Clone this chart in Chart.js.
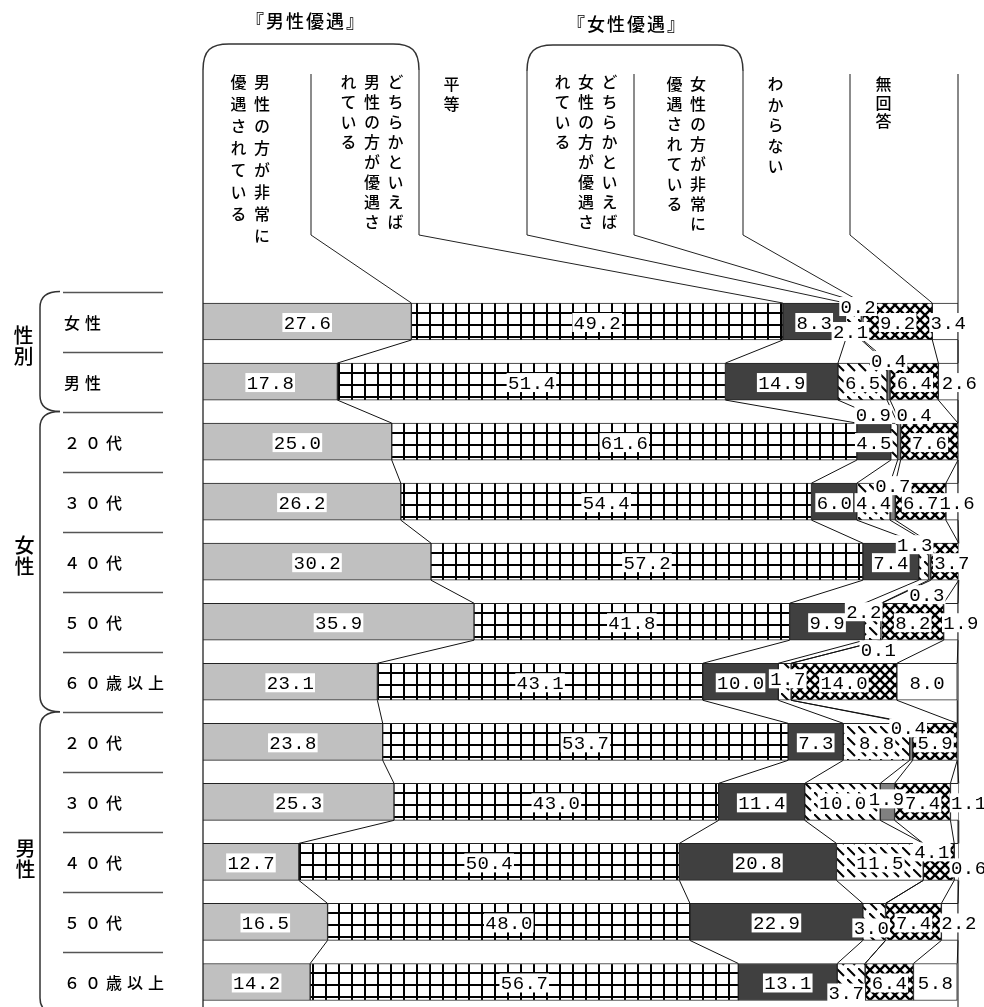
<!DOCTYPE html>
<html>
<head>
<meta charset="utf-8">
<script src="https://cdn.jsdelivr.net/npm/chart.js@4/dist/chart.umd.min.js"></script>
<style>
  html, body { margin: 0; padding: 0; overflow: hidden; background: #fff; }
  #wrap { position: relative; width: 984px; height: 1007px; }
  #chart { position: absolute; left: 0; top: 0; }
  .vt { position: absolute; writing-mode: vertical-rl; font-family: "Noto Sans CJK JP"; font-size: 16px;
        font-weight: 500; line-height: 23.5px; white-space: nowrap; color: #000; }
  .title { position: absolute; font-family: "Noto Sans CJK JP"; font-size: 18px; font-weight: 500;
           letter-spacing: 2px; line-height: 20px; white-space: nowrap; color: #000; }
  .grp { position: absolute; writing-mode: vertical-rl; font-family: "Noto Sans CJK JP"; font-size: 20px;
         font-weight: 500; letter-spacing: 1px; line-height: 20px; color: #000; }
</style>
</head>
<body>
<div id="wrap">
  <canvas id="chart" width="984" height="1012"></canvas>

  <div class="title" style="left:246px;top:10px">『男性優遇』</div>
  <div class="title" style="left:567px;top:13px">『女性優遇』</div>

  <div class="vt" style="left:226px;top:74px;letter-spacing:6px">男性の方が非常に<br>優遇されている</div>
  <div class="vt" style="left:336px;top:74px;letter-spacing:4px">どちらかといえば<br>男性の方が優遇さ<br>れている</div>
  <div class="vt" style="left:439px;top:76px;letter-spacing:4px">平等</div>
  <div class="vt" style="left:550px;top:74px;letter-spacing:4px">どちらかといえば<br>女性の方が優遇さ<br>れている</div>
  <div class="vt" style="left:662px;top:76px;letter-spacing:4px">女性の方が非常に<br>優遇されている</div>
  <div class="vt" style="left:763px;top:76px;letter-spacing:4.5px">わからない</div>
  <div class="vt" style="left:871px;top:76px;letter-spacing:2.5px">無回答</div>

  <div class="grp" style="left:13px;top:325px">性別</div>
  <div class="grp" style="left:14px;top:535px">女性</div>
  <div class="grp" style="left:15px;top:838px">男性</div>
</div>
<script>
const rowLabels = ["女性", "男性", "２０代", "３０代", "４０代", "５０代", "６０歳以上",
  "２０代", "３０代", "４０代", "５０代", "６０歳以上"];
const seriesNames = ["男性の方が非常に優遇されている", "どちらかといえば男性の方が優遇されている", "平等",
  "どちらかといえば女性の方が優遇されている", "女性の方が非常に優遇されている", "わからない", "無回答"];

const menVery       = [27.6, 17.8, 25.0, 26.2, 30.2, 35.9, 23.1, 23.8, 25.3, 12.7, 16.5, 14.2];
const menSomewhat   = [49.2, 51.4, 61.6, 54.4, 57.2, 41.8, 43.1, 53.7, 43.0, 50.4, 48.0, 56.7];
const equal         = [8.3, 14.9, 4.5, 6.0, 7.4, 9.9, 10.0, 7.3, 11.4, 20.8, 22.9, 13.1];
const womenSomewhat = [2.1, 6.5, 0.9, 4.4, 1.3, 2.2, 1.7, 8.8, 10.0, 11.5, 3.0, 3.7];
const womenVery     = [0.2, 0.4, 0.4, 0.7, 0.3, 0.1, 0, 0.4, 1.9, 0, 0, 0];
const unknown       = [9.2, 6.4, 7.6, 6.7, 3.7, 8.2, 14.0, 5.9, 7.4, 4.1, 7.4, 6.4];
const noAnswer      = [3.4, 2.6, 0, 1.6, 0, 1.9, 8.0, 0, 1.1, 0.6, 2.2, 5.8];

const seriesValues = [menVery, menSomewhat, equal, womenSomewhat, womenVery, unknown, noAnswer];

// label nudges for the thin segments ("row,dataset": [dx, dy])
const labelShift = {
  "0,3": [-3, 9], "0,4": [-4, -16], "0,6": [3, 0],
  "1,4": [0, -22], "1,6": [11, 0],
  "2,3": [-21, -28], "2,4": [15, -28],
  "3,4": [0, -17], "3,6": [5, 0],
  "4,3": [-9, -18], "4,4": [-3, 32], "4,5": [7, 0],
  "5,3": [-9, -11], "5,4": [-3, 27], "5,6": [10, 0],
  "6,3": [3, -4],
  "7,4": [-3, -15],
  "8,4": [-1, -4], "8,6": [14, 0],
  "9,5": [-7, -11], "9,6": [12, 5],
  "10,3": [-3, 5], "10,6": [9, 0],
  "11,3": [-5, 10]
};

function makePattern(w, h, draw) {
  const c = document.createElement("canvas");
  c.width = w; c.height = h;
  const g = c.getContext("2d");
  g.fillStyle = "#fff";
  g.fillRect(0, 0, w, h);
  g.fillStyle = "#000";
  g.strokeStyle = "#000";
  draw(g, w, h);
  return g.createPattern(c, "repeat");
}

const gridPattern = makePattern(13, 12, (g, w, h) => {
  g.fillRect(0, 0, 2, h);
  g.fillRect(0, 0, w, 2);
});
const diagPattern = makePattern(11, 11, (g) => {
  g.lineWidth = 2;
  g.beginPath(); g.moveTo(0, 0); g.lineTo(8, 8); g.stroke();
});
const crossPattern = makePattern(10, 10, (g) => {
  g.lineWidth = 2.4;
  g.beginPath();
  g.moveTo(-5, -5); g.lineTo(15, 15);
  g.moveTo(15, -5); g.lineTo(-5, 15);
  g.stroke();
});

const fills = ["#c0c0c0", gridPattern, "#404040", diagPattern, "#808080", crossPattern, "#ffffff"];

// header column dividers: x, top
const headerLines = [[311, 74], [419, 70], [527, 70], [634, 74], [743, 70], [850, 74]];

function bracket(ctx, x1, x2, y) {
  ctx.beginPath();
  ctx.moveTo(x1, y + 26);
  ctx.bezierCurveTo(x1, y + 6, x1 + 8, y, x1 + 26, y);
  ctx.lineTo(x2 - 26, y);
  ctx.bezierCurveTo(x2 - 8, y, x2, y + 6, x2, y + 26);
  ctx.stroke();
}

function brace(ctx, y1, y2) {
  ctx.beginPath();
  ctx.moveTo(60, y1);
  ctx.bezierCurveTo(46, y1, 40, y1 + 6, 40, y1 + 16);
  ctx.lineTo(40, y2 - 16);
  ctx.bezierCurveTo(40, y2 - 6, 46, y2, 60, y2);
  ctx.stroke();
}

const decor = {
  id: "decor",
  beforeDatasetsDraw(chart) {
    const ctx = chart.ctx;
    const area = chart.chartArea;
    const yScale = chart.scales.y;
    ctx.save();

    // left panel separators
    ctx.strokeStyle = "#555";
    ctx.lineWidth = 1.5;
    for (let i = 0; i < rowLabels.length; i++) {
      const y = Math.round(yScale.getPixelForValue(i) - 30) + 0.5;
      ctx.beginPath(); ctx.moveTo(63, y); ctx.lineTo(163, y); ctx.stroke();
    }
    // braces
    ctx.strokeStyle = "#333";
    const band = (i) => yScale.getPixelForValue(i) - 30;
    brace(ctx, band(0), band(2));
    brace(ctx, band(2), band(7));
    brace(ctx, band(7), band(12) + 2);

    // outer vertical lines
    ctx.strokeStyle = "#707070";
    ctx.lineWidth = 2;
    ctx.beginPath(); ctx.moveTo(area.left, 70); ctx.lineTo(area.left, area.bottom); ctx.stroke();
    ctx.strokeStyle = "#888";
    ctx.beginPath(); ctx.moveTo(area.right, 74); ctx.lineTo(area.right, area.bottom); ctx.stroke();

    // brackets
    ctx.strokeStyle = "#333";
    ctx.lineWidth = 1.5;
    bracket(ctx, 203, 419, 44);
    bracket(ctx, 527, 743, 45);

    // header dividers going down to the first bar
    const first = chart.getDatasetMeta(0).data[0];
    const barTop = first.y - first.height / 2;
    headerLines.forEach(([x, top], k) => {
      const el = chart.getDatasetMeta(k).data[0];
      ctx.strokeStyle = "#666";
      ctx.lineWidth = 1.5;
      ctx.beginPath(); ctx.moveTo(x, top); ctx.lineTo(x, 235); ctx.stroke();
      ctx.strokeStyle = "#222";
      ctx.lineWidth = 1;
      ctx.beginPath(); ctx.moveTo(x, 235); ctx.lineTo(el.x, barTop); ctx.stroke();
    });
    ctx.restore();
  },
  afterDatasetsDraw(chart) {
    const ctx = chart.ctx;
    const yScale = chart.scales.y;
    ctx.save();

    // series lines between neighbouring bars
    ctx.strokeStyle = "#111";
    ctx.lineWidth = 1;
    for (let d = 0; d < seriesValues.length; d++) {
      const els = chart.getDatasetMeta(d).data;
      for (let i = 0; i < els.length - 1; i++) {
        const a = els[i], b = els[i + 1];
        ctx.beginPath();
        ctx.moveTo(a.x, a.y + a.height / 2);
        ctx.lineTo(b.x, b.y - b.height / 2);
        ctx.stroke();
      }
    }

    // value labels
    ctx.font = "19px 'Liberation Mono'";
    ctx.letterSpacing = "0.5px";
    ctx.textAlign = "center";
    ctx.textBaseline = "middle";
    seriesValues.forEach((vals, d) => {
      const els = chart.getDatasetMeta(d).data;
      vals.forEach((v, i) => {
        if (!v) return;
        const el = els[i];
        const shift = labelShift[i + "," + d] || [0, 0];
        const cx = (el.x + el.base) / 2 + shift[0];
        const cy = el.y + 1 + shift[1];
        const txt = v.toFixed(1);
        const w = ctx.measureText(txt).width + 2;
        ctx.fillStyle = "#fff";
        ctx.fillRect(cx - w / 2, cy - 9.5, w, 19);
        ctx.fillStyle = "#000";
        ctx.fillText(txt, cx + 0.3, cy + 1);
      });
    });

    // row labels
    ctx.font = "500 16px 'Noto Sans CJK JP'";
    ctx.letterSpacing = "5px";
    ctx.textAlign = "left";
    rowLabels.forEach((lab, i) => {
      ctx.fillText(lab, 64, yScale.getPixelForValue(i) + 1);
    });
    ctx.restore();
  }
};

new Chart(document.getElementById("chart"), {
  type: "bar",
  data: {
    labels: rowLabels,
    datasets: seriesValues.map((vals, d) => ({
      label: seriesNames[d],
      data: vals,
      backgroundColor: fills[d],
      borderColor: "#222",
      borderWidth: 1,
      borderSkipped: false,
      barThickness: 37
    }))
  },
  options: {
    indexAxis: "y",
    responsive: false,
    animation: false,
    devicePixelRatio: 1,
    layout: { padding: { left: 203, right: 26, top: 291.5, bottom: 0 } },
    plugins: { legend: { display: false }, tooltip: { enabled: false } },
    scales: {
      x: { stacked: true, min: 0, max: 100, display: false },
      y: { stacked: true, display: false }
    }
  },
  plugins: [decor]
});
</script>
</body>
</html>
